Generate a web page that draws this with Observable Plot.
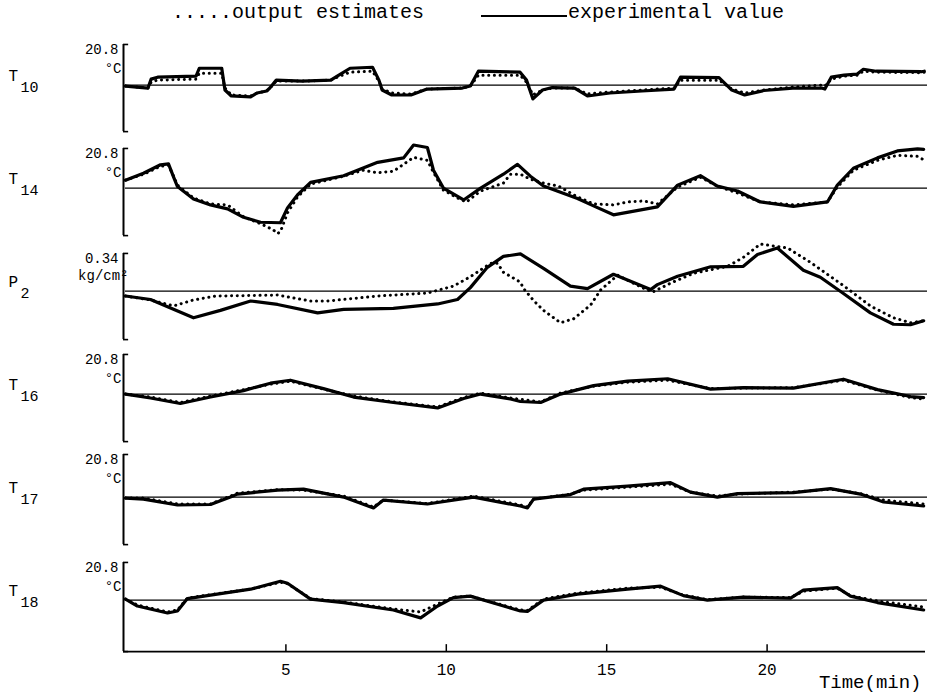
<!DOCTYPE html>
<html><head><meta charset="utf-8">
<script src="https://cdn.jsdelivr.net/npm/d3@7"></script>
<script src="https://cdn.jsdelivr.net/npm/@observablehq/plot@0.6"></script>
<style>
body{margin:0;background:#fff;}
#wrap{position:relative;width:927px;height:693px;overflow:hidden;background:#fff;font-family:"Liberation Mono",monospace;color:#000;}
#legend{position:relative;height:30px;}
#legend .lg{position:absolute;top:3px;font-size:20px;line-height:20px;white-space:pre;}
#legend .ln{position:absolute;top:15px;left:481px;width:86px;border-top:2.5px solid #000;}
#chart svg{display:block;}
</style></head><body>
<div id="wrap">
  <div id="legend">
    <span class="lg" style="left:172px">.....output estimates</span>
    <span class="ln"></span>
    <span class="lg" style="left:568px">experimental value</span>
  </div>
  <div id="chart"></div>
</div>
<script>
// ---- panels ----
const panels = ["T10", "T14", "P2", "T16", "T17", "T18"];
const letters = ["T", "T", "P", "T", "T", "T"];
const subs = ["10", "14", "2", "16", "17", "18"];
const topLabels = ["20.8", "20.8", "0.34", "20.8", "20.8", "20.8"];
const unitLabels = ["°C", "°C", "kg/cm²", "°C", "°C", "°C"];
// axis bracket extent of each panel (deviation units, reference line = 0)
const bracketTop = [41, 40, 38, 40, 43, 38];
const bracketBottom = [-47, -48, -49, -48, -48, -52];
const timeTicks = [5, 10, 15, 20];
const xAxisLevel = -52;

// ---- series: [time (min), deviation from reference line] ----
const T10_exp = [[0,-1],[0.7,-3],[0.8,6],[1.0,8],[2.2,9],[2.3,17],[3.0,17],[3.1,-5],[3.3,-11],[3.9,-12],[4.1,-8],[4.4,-6],[4.5,-3],[4.7,5],[5.5,4],[6.4,5],[6.6,9],[7.0,17],[7.7,18],[7.9,5],[8.0,-5],[8.3,-10],[8.9,-10],[9.4,-4],[10.5,-3],[10.75,-1],[11.0,14],[12.3,13],[12.5,5],[12.7,-14],[13.0,-5],[13.3,-2.5],[14.0,-3],[14.4,-11],[15.1,-8],[16.1,-6],[17.1,-4],[17.3,8],[18.5,7.5],[18.9,-5],[19.3,-10],[19.9,-5.5],[20.8,-3],[21.7,-3],[21.8,-4],[22.0,8],[22.4,10],[22.8,11],[23.0,16],[23.4,14],[24.8,13.5],[24.9,14]];
const T10_est = [[0,-1],[0.7,-3],[0.8,3],[1.0,5],[2.2,6],[2.3,12],[3.0,12],[3.1,-3],[3.3,-10],[3.9,-11],[4.1,-8],[4.4,-6],[4.5,-3],[4.7,4],[5.5,4],[6.4,5],[6.6,8],[7.0,13],[7.7,14],[7.9,4],[8.0,-4],[8.3,-8],[8.9,-9],[9.4,-4],[10.5,-3],[10.75,-1],[11.0,10],[12.3,10],[12.5,3],[12.7,-10],[13.0,-5],[13.3,-3],[14.0,-3],[14.4,-9],[15.1,-7],[16.1,-5],[17.1,-3],[17.3,5],[18.5,5],[18.9,-4],[19.3,-8],[19.9,-5],[20.8,-2],[21.7,0],[21.8,-1],[22.0,6],[22.4,9],[22.8,10],[23.0,14],[23.4,13],[24.8,12.5],[24.9,13]];

const T14_exp = [[0,8],[0.56,15],[1.09,23.5],[1.34,24.5],[1.5,11],[1.62,1.5],[2.12,-11],[2.65,-17],[3.18,-21],[3.68,-29.5],[4.21,-34.5],[4.83,-35],[5.05,-20],[5.36,-7],[5.77,5.7],[6.8,12.5],[7.86,26],[8.67,30.5],[8.98,43.5],[9.41,41],[9.6,18],[9.91,0],[10.54,-12],[11.07,0],[11.78,14],[12.22,24],[12.62,12],[13.03,2],[14.09,-10.5],[14.59,-18],[15.21,-27],[16.58,-19],[17.21,3],[17.92,12.5],[18.45,2],[19.08,-3],[19.79,-14],[20.82,-18.5],[21.88,-14],[22.19,3],[22.69,20],[23.44,30.5],[24.06,37.5],[24.69,39.5],[24.88,39]];
const T14_est = [[0,8],[0.56,14],[1.09,22],[1.34,23],[1.5,12],[1.62,3],[2.12,-10],[2.65,-16],[3.18,-17],[3.68,-29],[4.21,-36],[4.6,-42],[4.74,-46],[4.83,-44],[5.05,-25],[5.36,-9],[5.77,4],[6.8,12],[7.4,18],[7.86,15.5],[8.35,17],[8.67,24],[8.98,31],[9.41,28],[9.6,16],[9.91,-2],[10.35,-10],[10.63,-14],[11.07,-3],[11.78,5],[12.0,14],[12.31,14],[12.62,9],[13.03,5],[13.5,2],[14.09,-9],[14.59,-16],[15.21,-17],[15.65,-14],[16.15,-13],[16.58,-16],[17.21,1],[17.92,11],[18.45,2],[19.08,-5],[19.79,-14],[20.82,-17],[21.88,-14],[22.19,1],[22.69,18],[23.44,28],[24.06,33],[24.69,32],[24.88,28.5]];

const P2_exp = [[0,-5],[0.78,-8.5],[2.12,-27],[2.96,-19.5],[3.9,-10],[4.74,-13.5],[5.99,-22],[6.8,-18.5],[8.35,-17.5],[9.73,-13],[10.35,-8.5],[10.75,3.5],[11.28,24],[11.78,35],[12.31,37.5],[13.03,23],[13.87,5],[14.4,2.5],[15.21,17],[16.37,1.5],[16.58,6.5],[17.21,15],[18.24,24.5],[19.26,25],[19.7,37],[20.32,43.5],[21.13,21],[21.66,14],[22.38,-2.5],[23.22,-22],[23.94,-33.5],[24.47,-34],[24.88,-30]];
const P2_est = [[0,-5],[0.78,-9],[1.5,-15],[2.12,-9],[2.8,-5],[3.9,-4.5],[4.74,-4],[5.77,-10],[6.3,-10],[7.86,-5],[9.41,-2],[10.22,5],[10.75,14.5],[11.38,28],[11.6,28],[11.78,19],[12.31,9],[12.41,2.5],[12.72,-9.5],[13.03,-19.5],[13.56,-32],[13.97,-28],[14.5,-14],[14.81,1],[15.34,16],[15.74,9.5],[16.15,3],[16.43,-1],[16.99,8],[17.71,18],[18.77,25],[19.26,34],[19.79,47.5],[20.64,43.5],[21.35,29],[22.38,5.5],[23.22,-15],[23.94,-27],[24.47,-32],[24.88,-30]];

const T16_exp = [[0,0],[0.78,-4],[1.71,-9.5],[2.65,-3],[3.68,3.5],[4.52,11],[5.14,14],[6.17,5.5],[7.11,-3],[8.35,-8.5],[9.73,-14],[10.54,-4.5],[11.07,0],[12.0,-5],[12.31,-7.5],[12.94,-8.5],[13.56,0],[14.59,8.5],[15.65,13],[16.9,15.5],[18.24,5],[19.26,6.5],[20.82,6],[22.38,15],[23.44,4.5],[24.47,-2.5],[24.88,-3.5]];
const T16_est = [[0,0],[0.78,-3],[1.71,-8.5],[2.65,-2],[3.68,4.5],[4.52,10],[5.14,13],[6.17,5],[7.11,-2],[8.35,-8],[9.73,-13],[10.54,-3.5],[11.07,1],[12.0,-4],[12.94,-8],[13.56,1],[14.59,8],[15.65,12],[16.9,14],[18.24,5.5],[19.26,6],[20.82,6.5],[22.38,14],[23.44,4],[24.47,-3.5],[24.88,-5]];

const T17_exp = [[0,-1],[0.56,-2],[1.62,-8],[2.65,-7.5],[3.27,0],[3.49,3],[4.74,7],[5.55,8],[6.8,0],[7.73,-11],[8.04,-3],[9.41,-7],[10.85,0],[12.31,-9],[12.53,-11],[12.72,-2],[13.87,2.5],[14.28,8],[15.65,11],[16.99,14.5],[17.61,5],[18.45,0],[19.08,3.5],[20.82,4.5],[21.98,8.5],[22.91,3],[23.63,-5],[24.88,-9]];
const T17_est = [[0,-1],[0.56,-1],[1.62,-7],[2.65,-7],[3.27,1],[3.49,4],[4.74,7.5],[5.55,7],[6.8,1],[7.73,-10],[8.04,-3],[9.41,-6.5],[10.85,1],[12.31,-8],[12.53,-10],[12.72,-2],[13.87,3],[14.28,7],[15.65,10],[16.99,13],[17.61,5],[18.45,1],[19.08,3],[20.82,5],[21.98,8],[22.91,3.5],[23.63,-3],[24.88,-7]];

const T18_exp = [[0,1],[0.37,-6],[1.31,-13],[1.62,-11],[1.93,1.5],[2.65,5],[3.9,11],[4.83,19],[5.05,17],[5.77,1],[6.8,-2.5],[8.35,-10],[9.2,-18],[9.73,-6],[10.22,2.5],[10.75,4],[11.47,-3],[12.31,-11],[12.53,-11.5],[13.03,0],[14.09,6],[15.65,11],[16.68,14],[17.39,4.5],[18.14,0],[19.26,3],[20.73,2],[21.13,10],[22.19,12.5],[22.6,4],[23.44,-2.5],[24.88,-10]];
const T18_est = [[0,1],[0.37,-5],[1.31,-12],[1.62,-10],[1.93,2],[2.65,5.5],[3.9,11],[4.83,18],[5.05,16.5],[5.77,1.5],[6.8,-2],[8.35,-9],[9.2,-12],[9.73,-4],[10.22,3],[10.75,4],[11.47,-2.5],[12.31,-10],[12.53,-10.5],[13.03,1],[14.09,7],[15.65,12],[16.68,13],[17.39,5],[18.14,0.5],[19.26,3],[20.73,2.5],[21.13,9],[22.19,12],[22.6,4.5],[23.44,-1],[24.88,-7]];

const expSeries = [T10_exp, T14_exp, P2_exp, T16_exp, T17_exp, T18_exp];
const estSeries = [T10_est, T14_est, P2_est, T16_est, T17_est, T18_est];

// ---- tables built from the arrays ----
const panelRows = panels.map((p, i) => ({
  panel: p, letter: letters[i], sub: subs[i], topLabel: topLabels[i], unit: unitLabels[i],
  top: bracketTop[i], bottom: bracketBottom[i]
}));
const toRows = (series) => panels.flatMap((p, i) => series[i].map(([t, v]) => ({panel: p, t, v})));
const expRows = toRows(expSeries);
const estRows = toRows(estSeries);
const tickRows = timeTicks.map(t => ({panel: "T18", t, y: xAxisLevel}));
const axisRows = [{panel: "T18", y: xAxisLevel}];

const font = "Liberation Mono, DejaVu Sans Mono, monospace";

const chart = Plot.plot({
  width: 927,
  height: 663,
  marginTop: 9,
  marginBottom: 32,
  marginLeft: 125,
  marginRight: 0,
  x: {domain: [0, 25], axis: null},
  y: {domain: [-60, 44], axis: null},
  fy: {domain: panels, axis: null, padding: 0},
  style: {fontFamily: font, color: "#000", background: "#fff", overflow: "visible"},
  marks: [
    // reference line
    Plot.ruleY(panelRows, {fy: "panel", y: () => 0, stroke: "#000", strokeWidth: 1.4}),
    // bracket axis
    Plot.ruleX(panelRows, {fy: "panel", x: () => 0, y1: "bottom", y2: "top", dx: -2, stroke: "#000", strokeWidth: 2}),
    Plot.ruleY(panelRows, {fy: "panel", y: "top", x1: () => 0, x2: () => 0.16, dx: -2, stroke: "#000", strokeWidth: 1.6}),
    Plot.ruleY(panelRows, {fy: "panel", y: "bottom", x1: () => 0, x2: () => 0.16, dx: -2, stroke: "#000", strokeWidth: 1.6}),
    // time axis
    Plot.ruleY(axisRows, {fy: "panel", y: "y", x1: () => 0, x2: () => 25, dx: -2, stroke: "#000", strokeWidth: 1.6}),
    Plot.ruleX(tickRows, {fy: "panel", x: "t", y1: "y", y2: d => d.y + 7, stroke: "#000", strokeWidth: 1.5}),
    Plot.text(tickRows, {fy: "panel", x: "t", y: "y", dy: 18, text: d => String(d.t), fontSize: 16, fontFamily: font, fill: "#000"}),
    Plot.text(axisRows, {fy: "panel", y: "y", frameAnchor: "right", dx: -6, dy: 30, textAnchor: "end", text: () => "Time(min)", fontSize: 19, fontFamily: font, fill: "#000"}),
    // panel labels
    Plot.text(panelRows, {fy: "panel", y: () => 0, frameAnchor: "left", dx: -117, dy: -9, textAnchor: "start", text: "letter", fontSize: 16, fontFamily: font, fill: "#000"}),
    Plot.text(panelRows, {fy: "panel", y: () => 0, frameAnchor: "left", dx: -105, dy: 2, textAnchor: "start", text: "sub", fontSize: 15, fontFamily: font, fill: "#000"}),
    Plot.text(panelRows, {fy: "panel", y: "top", frameAnchor: "left", dx: -7, dy: 5, textAnchor: "end", text: "topLabel", fontSize: 14, fontFamily: font, fill: "#000"}),
    Plot.text(panelRows.filter(d => d.unit === "°C"), {fy: "panel", y: "top", frameAnchor: "left", dx: -4, dy: 24, textAnchor: "end", text: "unit", fontSize: 14, fontFamily: font, fill: "#000"}),
    Plot.text(panelRows.filter(d => d.unit !== "°C"), {fy: "panel", y: "top", frameAnchor: "left", dx: 3, dy: 22, textAnchor: "end", text: "unit", fontSize: 14, fontFamily: font, fill: "#000"}),
    // series
    Plot.line(expRows, {fy: "panel", x: "t", y: "v", stroke: "#000", strokeWidth: 3.2, strokeLinejoin: "round"}),
    Plot.line(estRows, {fy: "panel", x: "t", y: "v", stroke: "#000", strokeWidth: 3, strokeLinecap: "round", strokeDasharray: "0.1,5.6"})
  ]
});
document.getElementById("chart").appendChild(chart);
</script>
</body></html>
